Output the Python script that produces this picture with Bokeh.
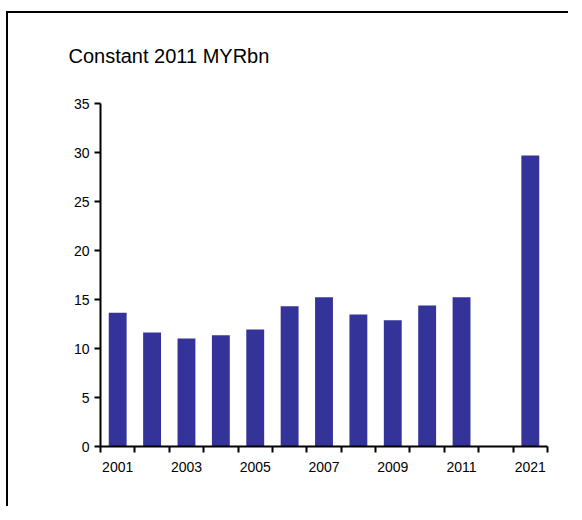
from bokeh.plotting import figure
from bokeh.models import Range1d, FixedTicker, ColumnDataSource
from bokeh.embed import file_html
from bokeh.resources import INLINE

# Data
categories = ["2001", "2002", "2003", "2004", "2005", "2006", "2007", "2008",
              "2009", "2010", "2011", "", "2021"]
values = [13.66, 11.64, 11.03, 11.34, 11.95, 14.3, 15.22, 13.48,
          12.87, 14.4, 15.22, None, 29.7]
label_years = ["2001", "2003", "2005", "2007", "2009", "2011", "2021"]
y_ticks = [0, 5, 10, 15, 20, 25, 30, 35]
title_text = "Constant 2011 MYRbn"

n = len(categories)
xs = [i + 0.5 for i, v in enumerate(values) if v is not None]
tops = [v for v in values if v is not None]
src = ColumnDataSource(dict(x=xs, top=tops))

FONT = "Liberation Sans"

p = figure(width=562, height=500, output_backend="svg", toolbar_location=None,
           x_range=Range1d(0, n), y_range=Range1d(0, 35),
           title=title_text,
           min_border_left=94, min_border_right=21, min_border_top=97,
           min_border_bottom=60)
p.styles = {
    "margin-left": "6px", "margin-top": "6px",
    "background": ("linear-gradient(black, black) 0px 5px / 100% 2px no-repeat, "
                   "linear-gradient(black, black) 0px 5px / 2px 100% no-repeat, white"),
}

p.vbar(x="x", top="top", width=0.52, bottom=0, source=src,
       fill_color="#333399", line_color=None)

p.title.text_font = FONT
p.title.text_font_size = "20px"
p.title.text_font_style = "normal"
p.title.text_color = "black"
p.title.align = "left"
p.title.vertical_align = "top"
p.title.offset = -32
p.title.standoff = 69

p.outline_line_color = None
p.xgrid.grid_line_color = None
p.ygrid.grid_line_color = None
p.background_fill_color = "white"
p.border_fill_alpha = 0

# x axis: labels at centres, ticks at category boundaries
centers = [categories.index(y) + 0.5 for y in label_years]
p.xaxis.ticker = FixedTicker(ticks=centers, minor_ticks=list(range(0, n + 1)))
p.xaxis.major_label_overrides = {c: y for c, y in zip(centers, label_years)}
p.xaxis.major_tick_out = 0
p.xaxis.major_tick_in = 0
p.xaxis.minor_tick_out = 6
p.xaxis.minor_tick_in = 0
p.xaxis.minor_tick_line_color = "black"
p.xaxis.minor_tick_line_width = 2
p.xaxis.axis_line_width = 2
p.xaxis.major_label_standoff = 9
p.xaxis.major_label_text_font = FONT
p.xaxis.major_label_text_font_size = "14px"
p.xaxis.major_label_text_color = "black"

p.yaxis.ticker = FixedTicker(ticks=y_ticks)
p.yaxis.minor_tick_line_color = None
p.yaxis.major_tick_out = 6
p.yaxis.major_tick_in = 0
p.yaxis.major_tick_line_width = 2
p.yaxis.axis_line_width = 2
p.yaxis.major_label_standoff = 5
p.yaxis.major_label_text_font = FONT
p.yaxis.major_label_text_font_size = "14px"
p.yaxis.major_label_text_color = "black"

open("out.html", "w").write(file_html(p, INLINE))
